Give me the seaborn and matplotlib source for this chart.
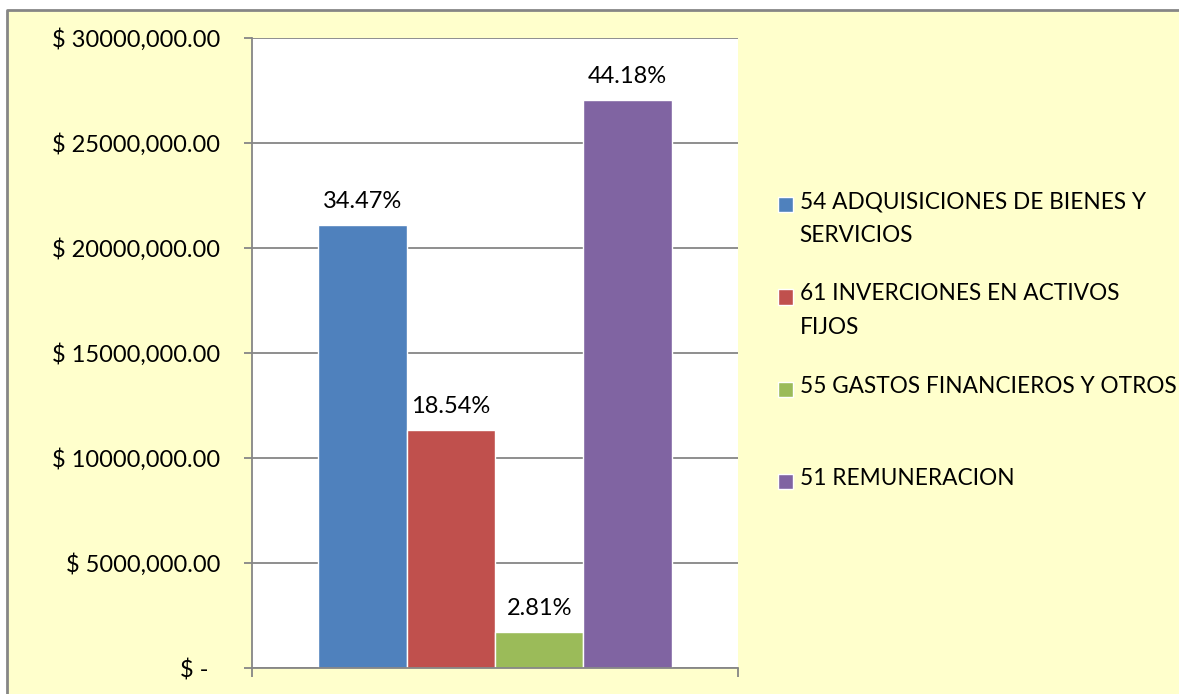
import seaborn as sns
import pandas as pd
import matplotlib.pyplot as plt
from matplotlib.patches import Rectangle
from matplotlib.lines import Line2D
from matplotlib.legend_handler import HandlerPatch
from matplotlib.ticker import FuncFormatter

# datos
partidas = ["54 ADQUISICIONES DE BIENES Y\nSERVICIOS",
            "61 INVERCIONES EN ACTIVOS\nFIJOS",
            "55 GASTOS FINANCIEROS Y OTROS\n ",
            "51 REMUNERACION\n "]
montos = [21100000, 11350000, 1720000, 27050000]
porcentajes = ["34.47%", "18.54%", "2.81%", "44.18%"]
colores = ["#4F81BD", "#C0504D", "#9BBB59", "#8064A2"]

df = pd.DataFrame({"grupo": [""] * 4, "partida": partidas, "monto": montos})

sns.set_style("white")
plt.rcParams['font.family'] = ['Lato', 'DejaVu Sans']
plt.rcParams['text.color'] = 'black'
plt.rcParams['ytick.labelcolor'] = 'black'
FS = 17

fig = plt.figure(figsize=(11.79, 6.94), dpi=100, facecolor="white")
# fondo amarillo del area del grafico, con borde solo arriba y a la izquierda
x0, y1 = 7 / 1179, 1 - 10 / 694
fig.patches.append(Rectangle((x0, 0), 1 - x0, y1, transform=fig.transFigure,
                             facecolor="#FFFFCC", edgecolor="none", zorder=-5))
fig.lines.append(Line2D([x0, x0, 1], [0, y1, y1], transform=fig.transFigure,
                        color="#868686", linewidth=2, zorder=-4))

ax = fig.add_axes([252 / 1179, 1 - 668 / 694, 486 / 1179, 630 / 694])
ax.set_facecolor("white")

sns.barplot(data=df, x="grupo", y="monto", hue="partida", palette=colores,
            width=0.728, errorbar=None, legend=False, ax=ax, saturation=1)

for cont, lab in zip(ax.containers, porcentajes):
    ax.bar_label(cont, labels=[lab], padding=9, fontsize=FS, color="black")

ax.set_ylim(0, 30000000)
ax.set_xlim(-0.5, 0.5)
ax.set_yticks(range(0, 30000001, 5000000))
ax.yaxis.set_major_formatter(FuncFormatter(
    lambda v, p: "$ -  " if v == 0 else f"$ {v / 1000:.0f},000.00"))
ax.set_xticks([-0.5, 0.5])
ax.set_xticklabels(["", ""])
ax.set_xlabel("")
ax.set_ylabel("")
ax.yaxis.grid(True, color="#868686", linewidth=1.3)
ax.set_axisbelow(True)
for s in ["top", "right"]:
    ax.spines[s].set_visible(False)
for s in ["left", "bottom"]:
    ax.spines[s].set_color("#868686")
    ax.spines[s].set_linewidth(1.3)
ax.tick_params(axis="y", direction="out", length=6, width=1.3, color="#868686",
               labelsize=FS, labelcolor="black", pad=17, left=True)
ax.tick_params(axis="x", direction="out", length=6.5, width=1.3, color="#868686",
               bottom=True)

LS = 1.75
FL = 16.3


def cuadro(legend, orig_handle, xdescent, ydescent, width, height, fontsize):
    off = 0.5 * LS * 0.72 * fontsize
    return Rectangle((-xdescent, -ydescent + off), width, height)


handles = [c.patches[0] for c in ax.containers]
leg = fig.legend(handles, partidas, loc="upper left",
                 bbox_to_anchor=(778 / 1179, 1 - 191 / 694), frameon=False,
                 fontsize=FL, handlelength=0.66, handleheight=0.66,
                 handletextpad=0.29, labelspacing=1.66, borderpad=0,
                 borderaxespad=0,
                 handler_map={Rectangle: HandlerPatch(patch_func=cuadro)})
for t in leg.get_texts():
    t.set_linespacing(LS)
    t.set_color("black")

fig.savefig("out.png", dpi=100)
